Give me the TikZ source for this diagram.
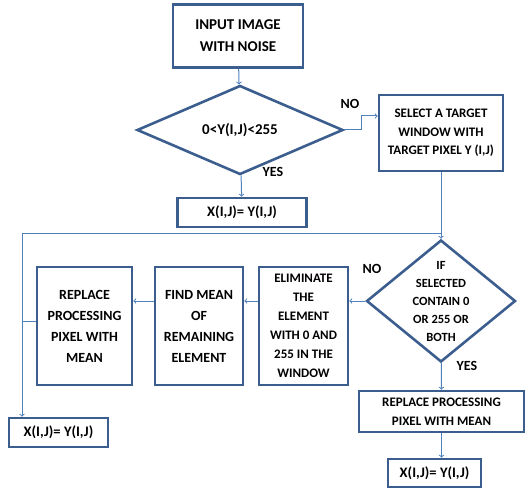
\documentclass[tikz,border=0pt]{standalone}
\usepackage{fontspec}
\setmainfont{Carlito}
\usetikzlibrary{shapes.geometric}

\definecolor{boxblue}{RGB}{60,94,142}
\definecolor{arrowblue}{RGB}{79,129,189}

\begin{document}
\begin{tikzpicture}[x=1pt, y=-1pt, >=to,
    box/.style={draw=boxblue, line width=2.6pt, rectangle, align=center, inner sep=0pt, font=\fontsize{13}{19}\selectfont\bfseries},
    decision/.style={draw=boxblue, line width=2.6pt, diamond, inner sep=0pt, align=center},
    dtext/.style={align=center, inner sep=0pt, font=\fontsize{12.5}{18}\selectfont\bfseries},
    arrow/.style={->, draw=arrowblue, line width=1pt},
    line/.style={draw=arrowblue, line width=1pt},
    lbl/.style={font=\fontsize{14}{16}\selectfont\bfseries}]

    \useasboundingbox (0,0) rectangle (526,489);

    \node [box, minimum width=130pt, minimum height=63pt, font=\fontsize{15}{22}\selectfont\bfseries] (input) at (238,36) {INPUT IMAGE\\WITH NOISE};
    \node [decision, minimum width=206pt, minimum height=56pt, font=\fontsize{15}{18}\selectfont\bfseries] (chk) at (240,130) {0<Y(I,J)<255};
    \node [box, minimum width=124pt, minimum height=76pt, font=\fontsize{13}{18.5}\selectfont\bfseries] (target) at (441,133) {SELECT A TARGET\\WINDOW WITH\\TARGET PIXEL Y (I,J)};
    \node [box, minimum width=129pt, minimum height=29pt, font=\fontsize{14.5}{16}\selectfont\bfseries] (xa) at (242,212.5) {X(I,J)= Y(I,J)};

    \node [decision, minimum width=149pt, minimum height=122pt, label={[dtext]center:{IF\\SELECTED\\CONTAIN 0\\OR 255 OR\\BOTH}}] (cont) at (441,301) {};
    \node [box, minimum width=89pt, minimum height=118pt] (elim) at (303.5,326) {ELIMINATE\\THE\\ELEMENT\\WITH 0 AND\\255 IN THE\\WINDOW};
    \node [box, minimum width=88pt, minimum height=118pt, font=\fontsize{14}{21}\selectfont\bfseries] (mean) at (199,326) {FIND MEAN\\OF\\REMAINING\\ELEMENT};
    \node [box, minimum width=95pt, minimum height=118pt, font=\fontsize{14}{21}\selectfont\bfseries] (repl) at (84.5,326) {REPLACE\\PROCESSING\\PIXEL WITH\\MEAN};
    \node [box, minimum width=99pt, minimum height=29pt, font=\fontsize{14.5}{16}\selectfont\bfseries] (xb) at (58.5,432.5) {X(I,J)= Y(I,J)};

    \node [box, minimum width=165pt, minimum height=41pt] (repltwo) at (441.5,411.5) {REPLACE PROCESSING\\PIXEL WITH MEAN};
    \node [box, minimum width=93pt, minimum height=28pt, font=\fontsize{14.5}{16}\selectfont\bfseries] (xc) at (434.5,473) {X(I,J)= Y(I,J)};

    \coordinate (split) at (22,321);
    \coordinate (merge) at (441,233);

    \draw [arrow] (input) -- (chk);
    \draw [arrow] (chk.east) -- ++(17,0) |- ([yshift=17pt]target.west);
    \draw [arrow] (chk) -- (xa);
    \draw [arrow] (target) -- (cont);
    \draw [arrow] (cont.west) -- (cont.west -| elim.east);
    \draw [arrow] ([yshift=25pt]elim.west) -- ([yshift=25pt]mean.east);
    \draw [arrow] ([yshift=25pt]mean.west) -- ([yshift=25pt]repl.east);
    \draw [line] ([yshift=5pt]repl.west) -- (split);
    \draw [line] (split) |- (merge);
    \draw [arrow] (split) -- (split |- xb.north);
    \draw [arrow] (cont) -- (repltwo);
    \draw [arrow] (repltwo.south) -- (repltwo.south |- xc.north);

    \node [lbl] (nochk) at (350,104) {NO};
    \node [lbl] (yeschk) at (273,172) {YES};
    \node [lbl] (nocont) at (372,269) {NO};
    \node [lbl] (yescont) at (467,366) {YES};

\end{tikzpicture}
\end{document}
